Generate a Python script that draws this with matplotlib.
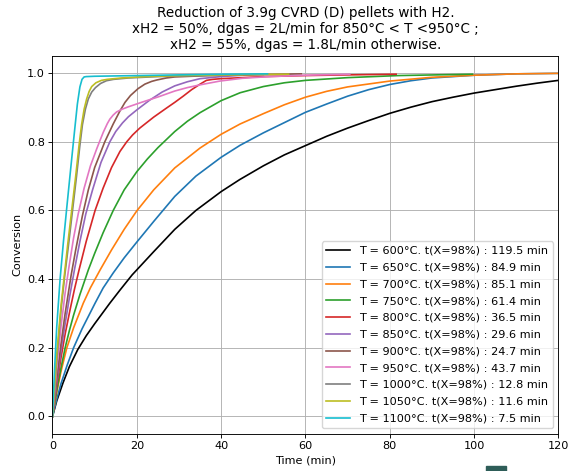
import matplotlib
matplotlib.use("Agg")
import matplotlib.pyplot as plt
from matplotlib.patches import Rectangle

plt.rcParams["font.size"] = 8.1

# conversion curves (time in min, conversion)
t_600 = [0, 1, 2.5, 4, 6, 8, 10, 13.6, 16, 18.9, 20, 24, 29, 34, 40, 44.4, 50, 55, 60, 65,
         70, 75, 80, 85, 90, 95, 100, 105, 110, 115, 120]
x_600 = [0, 0.045, 0.098, 0.145, 0.195, 0.235, 0.27, 0.33, 0.368, 0.4125, 0.427, 0.48, 0.545,
         0.6, 0.655, 0.69, 0.73, 0.762, 0.789, 0.816, 0.84, 0.862, 0.883, 0.901, 0.917, 0.93,
         0.942, 0.952, 0.962, 0.971, 0.979]

t_650 = [0, 1, 2, 3.5, 5, 7, 10.1, 12, 14.4, 17, 20, 24, 29, 34, 40, 44.5, 50, 55, 60, 65,
         70, 75, 80, 85, 90, 100, 110, 120]
x_650 = [0, 0.05, 0.095, 0.15, 0.2, 0.255, 0.33, 0.374, 0.418, 0.462, 0.508, 0.568, 0.641,
         0.7, 0.755, 0.79, 0.826, 0.856, 0.886, 0.91, 0.933, 0.952, 0.967, 0.978, 0.986, 0.994,
         0.998, 0.9995]

t_700 = [0, 1, 2, 3.4, 5, 7.3, 9, 11.3, 14, 17, 20, 24, 29, 35, 40, 44.5, 50, 55, 60, 65,
         70, 80, 90, 100, 110, 120]
x_700 = [0, 0.07, 0.13, 0.2, 0.258, 0.33, 0.375, 0.427, 0.485, 0.545, 0.599, 0.66, 0.724,
         0.782, 0.822, 0.852, 0.882, 0.908, 0.93, 0.947, 0.96, 0.977, 0.988, 0.994, 0.998, 0.9995]

t_750 = [0, 1, 2, 3, 4, 5, 6.5, 8.5, 10, 12, 14.4, 17, 20, 22.5, 25, 29, 32, 35, 40, 44.5,
         50, 55, 60, 70, 82, 99.6]
x_750 = [0, 0.075, 0.14, 0.2, 0.25, 0.295, 0.355, 0.427, 0.475, 0.535, 0.6, 0.66, 0.713,
         0.75, 0.783, 0.83, 0.86, 0.885, 0.92, 0.943, 0.961, 0.972, 0.979, 0.987, 0.993, 0.997]

t_800 = [0, 1, 2, 3, 4.15, 5.2, 6.3, 8, 10.1, 12, 14, 16, 17.6, 19, 20.7, 24, 27, 29, 31,
         33, 35, 36.5, 38, 40, 45, 50, 60, 70, 81.5]
x_800 = [0, 0.09, 0.17, 0.24, 0.31, 0.37, 0.427, 0.51, 0.6, 0.665, 0.725, 0.772, 0.8, 0.82,
         0.84, 0.872, 0.898, 0.915, 0.933, 0.952, 0.968, 0.979, 0.982, 0.984, 0.987, 0.99,
         0.993, 0.995, 0.997]

t_850 = [0, 1, 2, 3, 4, 5.2, 6.5, 7.9, 9.5, 11.5, 13.6, 15, 16.6, 18, 20, 23, 26, 29, 32,
         35, 40, 45, 50]
x_850 = [0, 0.1, 0.19, 0.27, 0.345, 0.427, 0.51, 0.59, 0.66, 0.74, 0.8, 0.83, 0.855, 0.873,
         0.893, 0.921, 0.945, 0.963, 0.975, 0.984, 0.99, 0.994, 0.996]

t_900 = [0, 1, 2, 3, 4.4, 5.5, 7.1, 8.5, 10, 12.4, 14.4, 16, 17.2, 18.5, 20.3, 21.9, 23.5,
         24.7, 27, 29, 35, 40, 50, 59]
x_900 = [0, 0.11, 0.21, 0.3, 0.41, 0.485, 0.585, 0.66, 0.725, 0.8, 0.852, 0.89, 0.915,
         0.935, 0.955, 0.968, 0.976, 0.98, 0.986, 0.989, 0.992, 0.994, 0.996, 0.998]

t_950 = [0, 1, 2, 3, 3.9, 5, 6.1, 7.5, 9, 10.5, 11.3, 12.05, 13, 13.6, 14.4, 15.2, 16.5, 18,
         21.1, 25.1, 29, 32, 35, 39.7, 45, 51.5, 60, 70.5]
x_950 = [0, 0.14, 0.26, 0.36, 0.435, 0.52, 0.59, 0.665, 0.73, 0.78, 0.805, 0.828, 0.853,
         0.866, 0.878, 0.887, 0.895, 0.902, 0.915, 0.931, 0.948, 0.958, 0.966, 0.977, 0.985,
         0.99, 0.994, 0.997]

t_1000 = [0, 1.1, 2.1, 2.9, 3.8, 4.75, 5.7, 6.5, 7.1, 7.8, 8.5, 9.3, 10.2, 11.4, 12.8, 14.5,
          18, 25, 35, 45]
x_1000 = [0, 0.18, 0.32, 0.41, 0.5, 0.6, 0.7, 0.79, 0.85, 0.895, 0.925, 0.945, 0.958, 0.97,
          0.978, 0.982, 0.986, 0.99, 0.993, 0.995]

t_1050 = [0, 1, 2, 2.8, 3.6, 4.55, 5.5, 6.3, 6.9, 7.5, 8.1, 8.7, 9.3, 10.3, 11.6, 13, 16.4,
          22, 30, 40, 56]
x_1050 = [0, 0.18, 0.32, 0.41, 0.5, 0.6, 0.7, 0.79, 0.85, 0.895, 0.925, 0.947, 0.961, 0.972,
          0.979, 0.982, 0.986, 0.99, 0.993, 0.995, 0.997]

t_1100 = [0, 0.5, 1, 1.8, 2.6, 3.4, 4.3, 5.3, 5.9, 6.5, 7.0, 7.5, 8, 10, 20, 30, 40, 51]
x_1100 = [0, 0.14, 0.26, 0.4, 0.51, 0.61, 0.72, 0.84, 0.91, 0.96, 0.982, 0.989, 0.99, 0.991,
          0.993, 0.995, 0.997, 0.998]

temps = [600, 650, 700, 750, 800, 850, 900, 950, 1000, 1050, 1100]
t98 = [119.5, 84.9, 85.1, 61.4, 36.5, 29.6, 24.7, 43.7, 12.8, 11.6, 7.5]
times = [t_600, t_650, t_700, t_750, t_800, t_850, t_900, t_950, t_1000, t_1050, t_1100]
convs = [x_600, x_650, x_700, x_750, x_800, x_850, x_900, x_950, x_1000, x_1050, x_1100]
colors = ["black", "tab:blue", "tab:orange", "tab:green", "tab:red", "tab:purple",
          "tab:brown", "tab:pink", "tab:gray", "tab:olive", "tab:cyan"]

fig = plt.figure(figsize=(5.7, 4.71), dpi=100)
ax = fig.add_axes([0.0921, 0.0794, 0.8877, 0.8017])

for T, tt, xx, c, tr in zip(temps, times, convs, colors, t98):
    ax.plot(tt, xx, color=c, lw=1.2, label=f"T = {T}°C. t(X=98%) : {tr} min")

ax.set_xlim(0, 120)
ax.set_ylim(-0.05, 1.05)
ax.grid(True, color="#b0b0b0", lw=0.65)
ax.tick_params(length=2.8, width=0.65, pad=2.8)
for s in ax.spines.values():
    s.set_linewidth(0.65)
ax.set_xlabel("Time (min)", labelpad=3)
ax.set_ylabel("Conversion", labelpad=3)
ax.set_title("Reduction of 3.9g CVRD (D) pellets with H2.\n"
             "xH2 = 50%, dgas = 2L/min for 850°C < T <950°C ;\n"
             "xH2 = 55%, dgas = 1.8L/min otherwise.", fontsize=9.75, pad=4.9)
ax.legend(loc="lower right", fontsize=8.1, handlelength=2.15, labelspacing=0.6)

# small dark tab cut off at the bottom edge of the screenshot
fig.patches.append(Rectangle((486 / 570, 0), 20 / 570, 5 / 471, transform=fig.transFigure,
                             color="#2e5d58", zorder=5))

fig.savefig("out.png", dpi=100)
